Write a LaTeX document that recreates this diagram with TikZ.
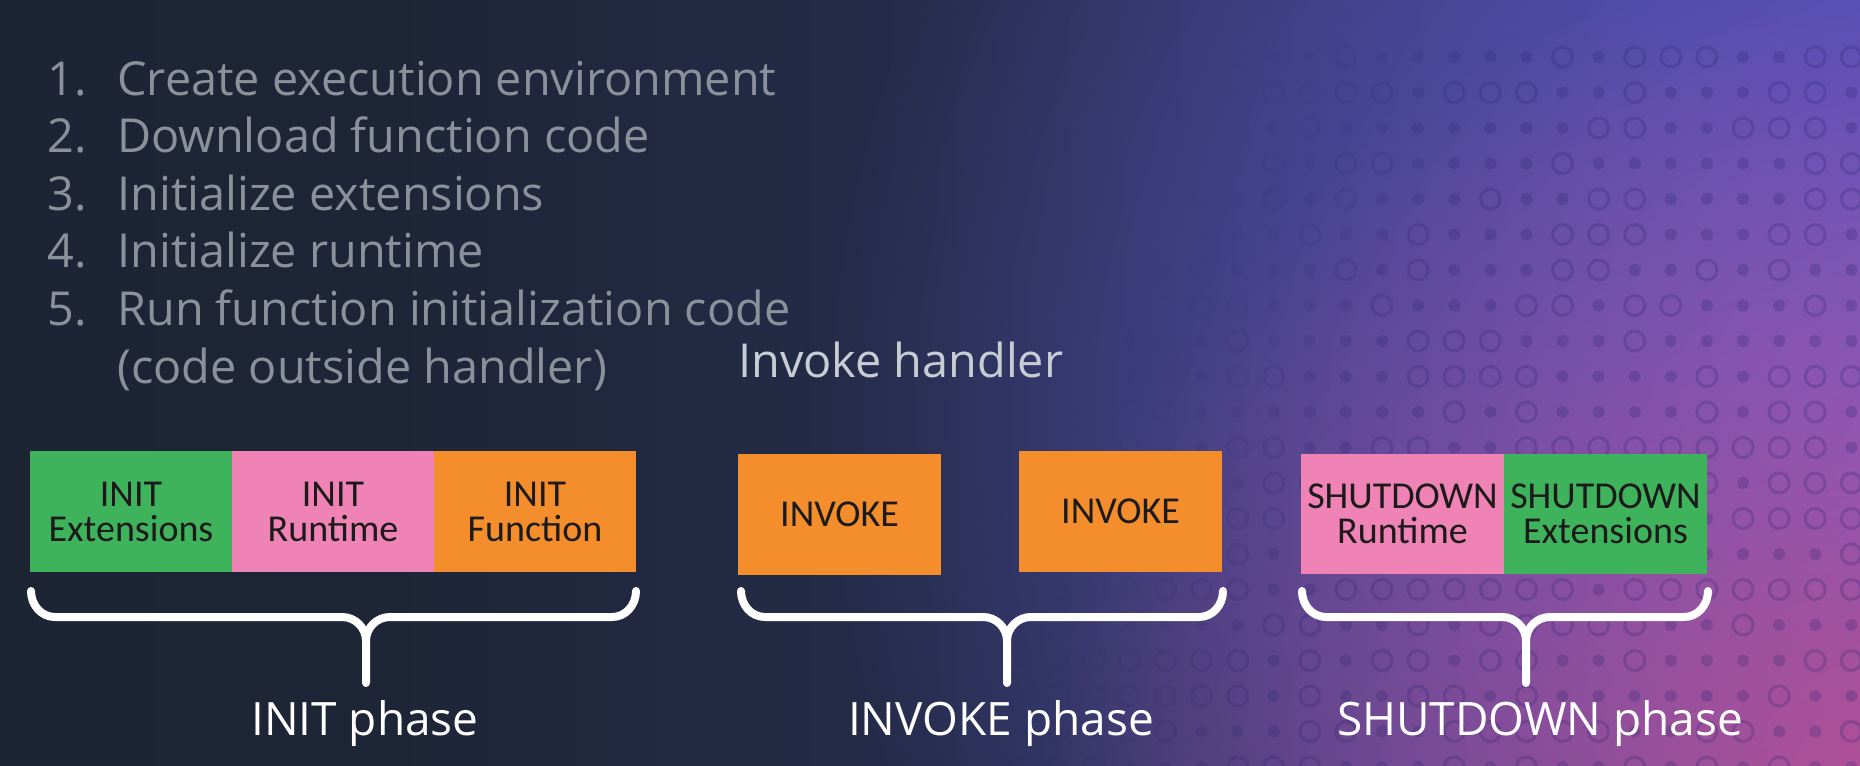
\documentclass[tikz,border=0pt]{standalone}
\usepackage{fontspec}
\setmainfont{Open Sans}
\newfontfamily\boxfont{Carlito}
\usetikzlibrary{fadings}
\definecolor{glowblue}{HTML}{6A62DA}
\definecolor{glowpink}{HTML}{C2508F}
\definecolor{patc}{HTML}{2A2470}
\definecolor{listgray}{HTML}{8A919B}
\definecolor{handlergray}{HTML}{C8CCD3}
\definecolor{boxgreen}{HTML}{3FB35C}
\definecolor{boxpink}{HTML}{F083B6}
\definecolor{boxorange}{HTML}{F48D2B}
\definecolor{boxtext}{HTML}{1C1A1A}
\pgfdeclarehorizontalshading{bgshade}{100bp}{color(0bp)=(rgb,255:red,27;green,34;blue,48); color(35bp)=(rgb,255:red,30;green,37;blue,54); color(50bp)=(rgb,255:red,37;green,44;blue,74); color(62bp)=(rgb,255:red,48;green,52;blue,104); color(76bp)=(rgb,255:red,59;green,58;blue,142); color(100bp)=(rgb,255:red,74;green,70;blue,176)}
\tikzfading[name=glowfade, inner color=transparent!0, outer color=transparent!100]
\tikzset{
  listnum/.style={anchor=base west, inner sep=0pt, text=listgray, font=\fontsize{23.4pt}{28pt}\selectfont},
  listtxt/.style={anchor=base west, inner sep=0pt, text=listgray, font=\fontsize{23.4pt}{28pt}\selectfont},
  handler/.style={anchor=base west, inner sep=0pt, text=handlergray, font=\fontsize{23.4pt}{28pt}\selectfont},
  phase/.style={anchor=base, inner sep=0pt, text=white, font=\fontsize{23pt}{28pt}\selectfont},
  stage/.style={inner sep=0pt, draw=none, minimum width=101pt, minimum height=60.5pt, align=center, text=boxtext,
     font=\boxfont\fontsize{19pt}{17.5pt}\selectfont},
  bracestyle/.style={draw=white, line width=4pt, line cap=round, line join=round}
}
\begin{document}
\begin{tikzpicture}[x=0.5pt,y=-0.5pt]
\useasboundingbox (0,0) rectangle (1860,766);
\begin{scope}
\clip (0,0) rectangle (1860,766);
\shade[shading=bgshade] (0,0) rectangle (1860,766);
\fill[glowblue, path fading=glowfade, opacity=0.9] (1900,420) circle[radius=540pt];
\fill[glowpink, path fading=glowfade, opacity=0.85] (1880,790) circle[radius=420pt];
% dot / ring pattern
\pgfmathsetseed{11}
\foreach \i in {0,...,23}{
  \foreach \j in {0,...,20}{
    \pgfmathsetmacro\px{1021+36.1*\i}
    \pgfmathsetmacro\py{57+35.5*\j}
    \pgfmathsetmacro\xb{1230-0.368*(\py-60)}
    \pgfmathsetmacro\op{0.24*max(0,min(1,(\px-\xb)/280))}
    \pgfmathtruncatemacro\kind{rnd<0.45}
    \ifnum\kind=1
      \draw[patc, opacity=\op, line width=1.5pt] (\px,\py) circle[radius=5pt];
    \else
      \fill[patc, opacity=\op] (\px,\py) circle[radius=3pt];
    \fi
  }
}
\end{scope}

% list
\node[listnum] (n1) at (47,95) {1.};
\node[listtxt] (t1) at (117,95) {Create execution environment};
\node[listnum] (n2) at (47,152.6) {2.};
\node[listtxt] (t2) at (117,152.6) {Download function code};
\node[listnum] (n3) at (47,210.2) {3.};
\node[listtxt] (t3) at (117,210.2) {Initialize extensions};
\node[listnum] (n4) at (47,267.8) {4.};
\node[listtxt] (t4) at (117,267.8) {Initialize runtime};
\node[listnum] (n5) at (47,325.4) {5.};
\node[listtxt] (t5) at (117,325.4) {Run function initialization code};
\node[listtxt] (t6) at (117,383) {(code outside handler)};

\node[handler] (ih) at (738,377) {Invoke handler};

% INIT boxes
\node[stage, fill=boxgreen] (ie) at (131,511.5) {INIT\\Extensions};
\node[stage, fill=boxpink] (ir) at (333,511.5) {INIT\\Runtime};
\node[stage, fill=boxorange] (if) at (535,511.5) {INIT\\Function};

% INVOKE boxes
\node[stage, fill=boxorange, minimum width=101.5pt] (iv1) at (839.5,514) {INVOKE};
\node[stage, fill=boxorange, minimum width=101.5pt] (iv2) at (1120.5,511.5) {INVOKE};

% SHUTDOWN boxes
\node[stage, fill=boxpink, minimum width=101.5pt, minimum height=60pt] (sr) at (1402.5,514) {SHUTDOWN\\Runtime};
\node[stage, fill=boxgreen, minimum width=101.5pt, minimum height=60pt] (se) at (1605.5,514) {SHUTDOWN\\Extensions};

% braces
\draw[bracestyle] (31,591) to[out=-90,in=180] (55,617) -- (342,617) to[out=0,in=90] (366,641) -- (366,683);
\draw[bracestyle] (636,591) to[out=-90,in=0] (612,617) -- (390,617) to[out=180,in=90] (366,641);

\draw[bracestyle] (741,591) to[out=-90,in=180] (765,617) -- (983,617) to[out=0,in=90] (1007,641) -- (1007,683);
\draw[bracestyle] (1223,591) to[out=-90,in=0] (1199,617) -- (1031,617) to[out=180,in=90] (1007,641);

\draw[bracestyle] (1302,591) to[out=-90,in=180] (1326,617) -- (1502,617) to[out=0,in=90] (1526,641) -- (1526,683);
\draw[bracestyle] (1708,591) to[out=-90,in=0] (1684,617) -- (1550,617) to[out=180,in=90] (1526,641);

% phase labels
\node[phase] (pi) at (365,735) {INIT phase};
\node[phase] (pv) at (1001,735) {INVOKE phase};
\node[phase] (ps) at (1540,735) {SHUTDOWN phase};
\end{tikzpicture}
\end{document}
